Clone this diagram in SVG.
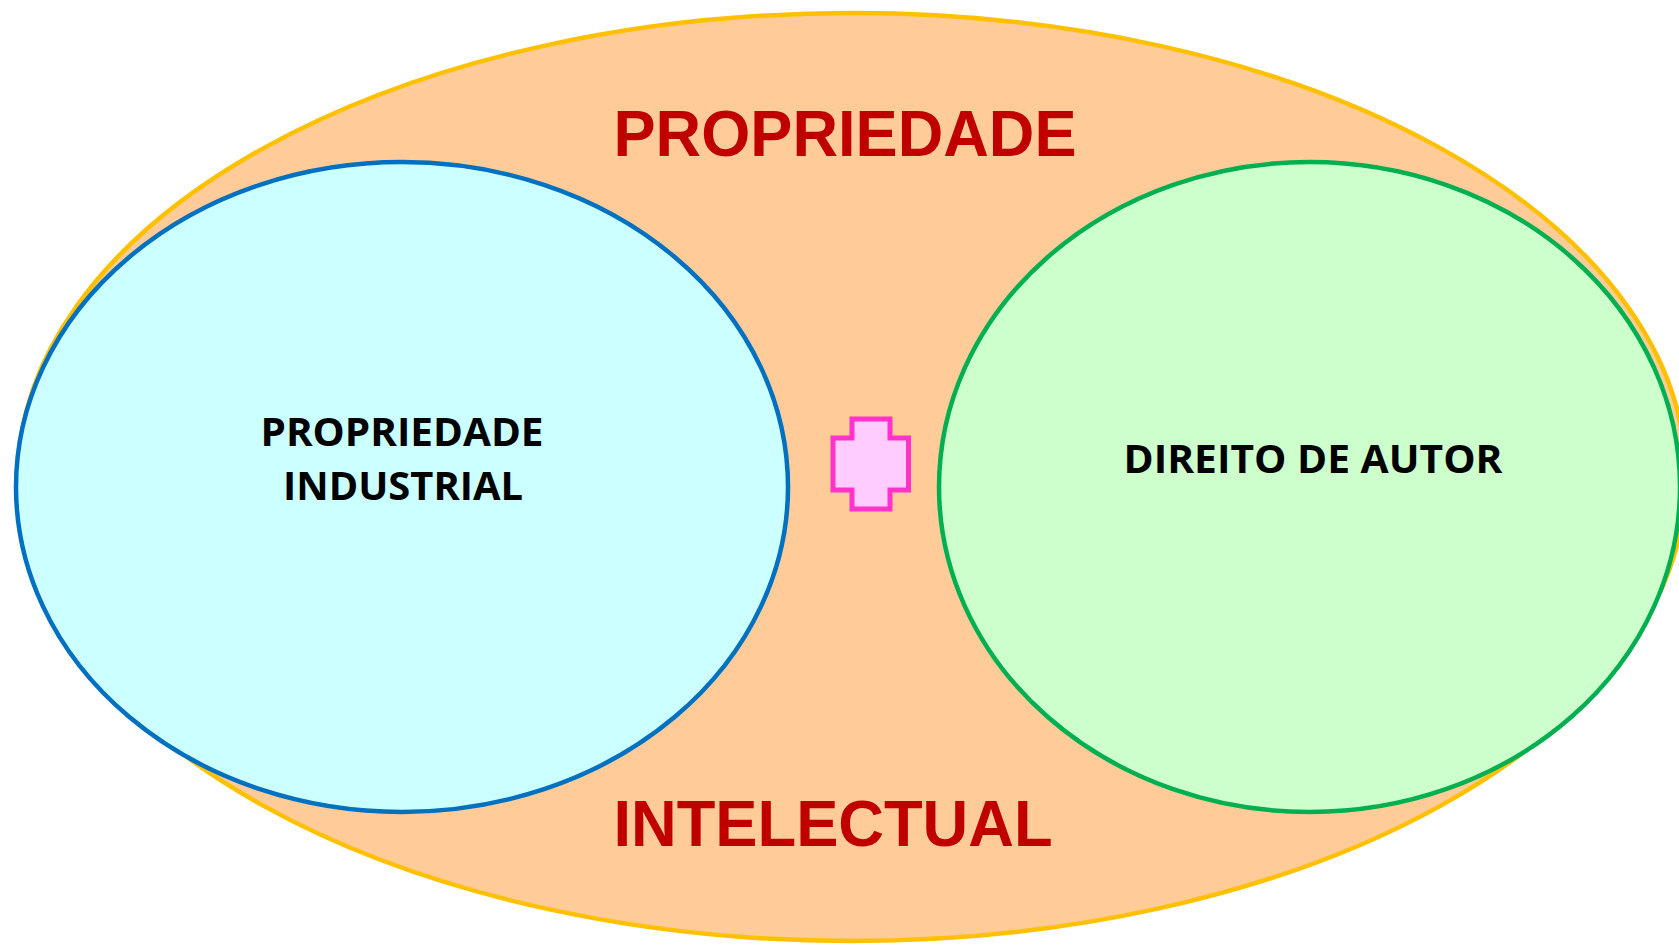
<svg xmlns="http://www.w3.org/2000/svg" width="1679" height="945" viewBox="0 0 1679 945">
  <style>
    .title { font-family: "Liberation Sans", Arial, sans-serif; font-weight: bold; font-size: 64px; fill: #C00000; text-anchor: middle; }
    .label { font-family: "Open Sans", "Liberation Sans", sans-serif; font-weight: bold; font-size: 40px; fill: #000000; text-anchor: middle; }
  </style>
  <rect x="0" y="0" width="1679" height="945" fill="#FFFFFF"/>
  <g id="outer">
    <ellipse cx="852" cy="477" rx="834" ry="464" fill="#FFCC99" stroke="#FFC000" stroke-width="4.5"/>
    <text class="title" x="845" y="156" textLength="463" lengthAdjust="spacingAndGlyphs">PROPRIEDADE</text>
    <text class="title" x="833" y="846" textLength="439" lengthAdjust="spacingAndGlyphs">INTELECTUAL</text>
  </g>
  <g id="industrial">
    <ellipse cx="402" cy="487" rx="386" ry="325" fill="#CCFFFF" stroke="#0070C0" stroke-width="4.5"/>
    <text class="label" x="402" y="446" textLength="283" lengthAdjust="spacingAndGlyphs">PROPRIEDADE</text>
    <text class="label" x="403" y="500" textLength="240" lengthAdjust="spacingAndGlyphs">INDUSTRIAL</text>
  </g>
  <g id="autor">
    <ellipse cx="1309.5" cy="487" rx="370.5" ry="325" fill="#CCFFCC" stroke="#00B050" stroke-width="4.5"/>
    <text class="label" x="1313" y="473.3" textLength="379" lengthAdjust="spacingAndGlyphs">DIREITO DE AUTOR</text>
  </g>
  <g id="plus">
    <path d="M852,419 H890 V438 H908.5 V490 H890 V509 H852 V490 H833 V438 H852 Z" fill="#FFCCFF" stroke="#FF33CC" stroke-width="5"/>
  </g>
  <g id="connectors"></g>
</svg>
